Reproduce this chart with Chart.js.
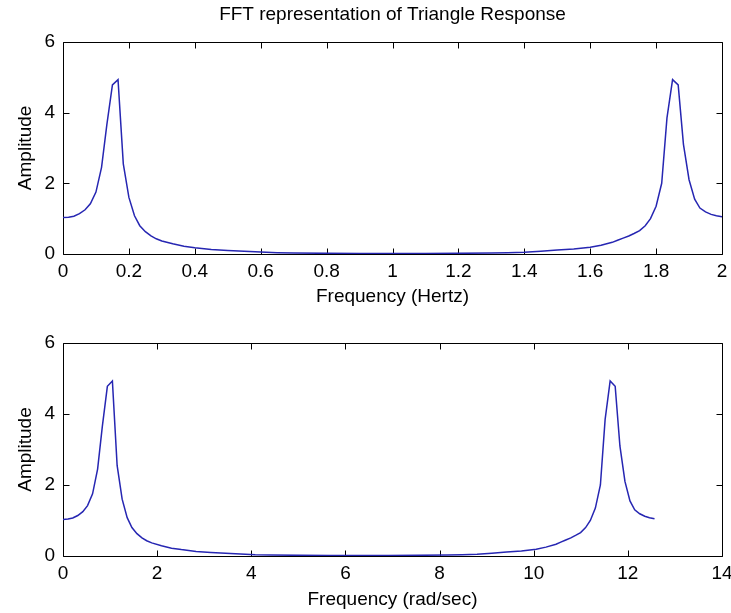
<!DOCTYPE html>
<html>
<head>
<meta charset="utf-8">
<title>FFT representation of Triangle Response</title>
<script src="https://cdn.jsdelivr.net/npm/chart.js@4/dist/chart.umd.min.js"></script>
<style>
  html, body { margin: 0; padding: 0; background: #fff; }
  #wrap { position: relative; width: 731px; height: 613px; }
  canvas { position: absolute; left: 0; }
  #hzPlot { top: 0; }
  #radPlot { top: 310px; }
</style>
</head>
<body>
<div id="wrap">
  <canvas id="hzPlot" width="731" height="310"></canvas>
  <canvas id="radPlot" width="731" height="303"></canvas>
</div>
<script>
// FFT bins (Hz) and their magnitudes
const freqHz = [
  0, 0.017, 0.033, 0.05, 0.067, 0.083, 0.1, 0.117, 0.133, 0.15,
  0.167, 0.183, 0.2, 0.217, 0.233, 0.25, 0.267, 0.283, 0.3,
  0.333, 0.367, 0.4, 0.45, 0.5, 0.55, 0.6, 0.65, 0.7, 0.8, 0.9,
  1.0, 1.1, 1.2, 1.3, 1.35, 1.4, 1.45, 1.5, 1.55, 1.6,
  1.633, 1.667, 1.683, 1.7, 1.717, 1.733, 1.75, 1.767, 1.783, 1.8,
  1.817, 1.833, 1.85, 1.867, 1.883, 1.9, 1.917, 1.933, 1.95, 1.967,
  1.983, 2.0
];
const amplitude = [
  1.03, 1.04, 1.07, 1.14, 1.25, 1.42, 1.75, 2.45, 3.65, 4.78,
  4.93, 2.55, 1.6, 1.08, 0.8, 0.63, 0.51, 0.43, 0.37,
  0.29, 0.22, 0.18, 0.13, 0.1, 0.075, 0.055, 0.035, 0.025, 0.02, 0.015,
  0.015, 0.015, 0.02, 0.025, 0.035, 0.05, 0.08, 0.11, 0.14, 0.19,
  0.25, 0.33, 0.39, 0.45, 0.51, 0.58, 0.66, 0.8, 1.0, 1.35,
  2.0, 3.85, 4.93, 4.78, 3.1, 2.1, 1.55, 1.3, 1.19, 1.12,
  1.08, 1.05
];

// axis limits: [min, max, step]
const hzAxis = [0, 2, 0.2];
const radAxis = [0, 14, 2];
const ampAxis = [0, 6, 2];

const FONT = '"Liberation Sans", Arial, sans-serif';
const FONT_SIZE = 19;
const LINE_BLUE = 'rgb(38, 38, 178)';

const hzPoints = freqHz.map((f, i) => ({ x: f, y: amplitude[i] }));
// same spectrum in rad/sec (w = 2*pi*f)
const radPoints = freqHz.map((f, i) => ({ x: f * 2 * Math.PI, y: amplitude[i] }));

// box around the axes with short inward ticks on all four sides
const axesBox = {
  id: 'axesBox',
  beforeDatasetsDraw(chart) {
    const { ctx, chartArea: a, scales } = chart;
    const L = Math.round(a.left) + 0.5, R = Math.round(a.right) + 0.5;
    const T = Math.round(a.top) + 0.5, B = Math.round(a.bottom) + 0.5;
    const len = 6;
    ctx.save();
    ctx.strokeStyle = '#000';
    ctx.lineWidth = 1;
    ctx.beginPath();
    ctx.rect(L, T, R - L, B - T);
    scales.x.ticks.forEach(t => {
      const px = Math.round(scales.x.getPixelForValue(t.value)) + 0.5;
      ctx.moveTo(px, B); ctx.lineTo(px, B - len);
      ctx.moveTo(px, T); ctx.lineTo(px, T + len);
    });
    scales.y.ticks.forEach(t => {
      const py = Math.round(scales.y.getPixelForValue(t.value)) + 0.5;
      ctx.moveTo(L, py); ctx.lineTo(L + len, py);
      ctx.moveTo(R, py); ctx.lineTo(R - len, py);
    });
    ctx.stroke();
    ctx.restore();
  }
};

function makeChart(id, points, xAxis, xTitle, opts) {
  return new Chart(document.getElementById(id), {
    type: 'line',
    data: {
      datasets: [{
        data: points,
        borderColor: LINE_BLUE,
        borderWidth: 1.5,
        pointRadius: 0,
        tension: 0,
        fill: false
      }]
    },
    options: {
      responsive: false,
      animation: false,
      layout: { padding: { top: opts.padTop, right: 9, left: 0, bottom: 0 } },
      plugins: {
        legend: { display: false },
        tooltip: { enabled: false },
        title: opts.title ? {
          display: true,
          text: opts.title,
          fullSize: false,
          color: '#000',
          font: { family: FONT, size: FONT_SIZE, weight: 'normal' },
          padding: { top: 3, bottom: 16 }
        } : { display: false }
      },
      scales: {
        x: {
          type: 'linear',
          min: xAxis[0],
          max: xAxis[1],
          grid: { display: false, drawTicks: false },
          border: { display: false },
          ticks: {
            stepSize: xAxis[2],
            padding: 6,
            color: '#000',
            maxRotation: 0,
            font: { family: FONT, size: FONT_SIZE },
            callback: v => String(+v.toFixed(1))
          },
          title: {
            display: true,
            text: xTitle,
            color: '#000',
            font: { family: FONT, size: FONT_SIZE },
            padding: { top: 0, bottom: 1.6 }
          },
          afterFit(s) {
            s.height = opts.xHeight;
            s.paddingLeft = 0;
            s.paddingRight = 0;
          }
        },
        y: {
          min: ampAxis[0],
          max: ampAxis[1],
          grid: { display: false, drawTicks: false },
          border: { display: false },
          ticks: {
            stepSize: ampAxis[2],
            padding: 8,
            color: '#000',
            font: { family: FONT, size: FONT_SIZE }
          },
          title: {
            display: true,
            text: 'Amplitude',
            color: '#000',
            font: { family: FONT, size: FONT_SIZE },
            padding: { top: 14, bottom: 0 }
          },
          afterFit(s) {
            s.width = 63;
            s.paddingTop = 0;
            s.paddingBottom = 0;
          }
        }
      }
    },
    plugins: [axesBox]
  });
}

makeChart('hzPlot', hzPoints, hzAxis, 'Frequency (Hertz)',
  { title: 'FFT representation of Triangle Response', padTop: 0, xHeight: 56 });
makeChart('radPlot', radPoints, radAxis, 'Frequency (rad/sec)',
  { padTop: 33, xHeight: 57 });
</script>
</body>
</html>
